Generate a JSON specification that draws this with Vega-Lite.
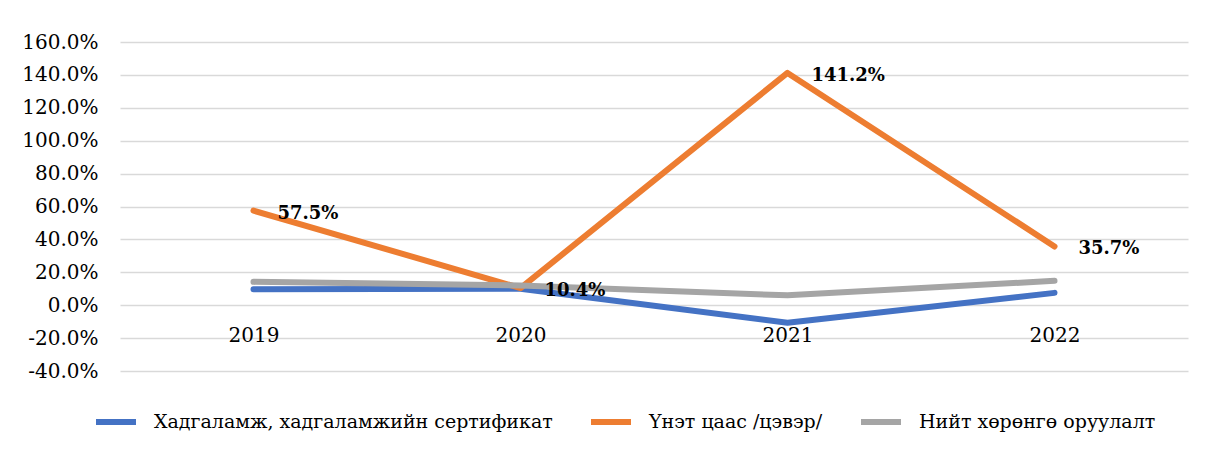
{
  "$schema": "https://vega.github.io/schema/vega-lite/v6.json",
  "width": 1068,
  "height": 329,
  "autosize": {"type": "none"},
  "padding": {"left": 120, "top": 42, "right": 18, "bottom": 80},
  "background": "white",
  "config": {
    "view": {"stroke": null},
    "font": "DejaVu Serif",
    "axis": {"labelFont": "DejaVu Serif"},
    "legend": {"labelFont": "DejaVu Serif"},
    "text": {"font": "DejaVu Serif"}
  },
  "data": {
    "values": [
      {"year": "2019", "series": "Хадгаламж, хадгаламжийн сертификат", "value": 0.097},
      {"year": "2020", "series": "Хадгаламж, хадгаламжийн сертификат", "value": 0.10},
      {"year": "2021", "series": "Хадгаламж, хадгаламжийн сертификат", "value": -0.107},
      {"year": "2022", "series": "Хадгаламж, хадгаламжийн сертификат", "value": 0.075},
      {"year": "2019", "series": "Үнэт цаас /цэвэр/", "value": 0.575},
      {"year": "2020", "series": "Үнэт цаас /цэвэр/", "value": 0.104},
      {"year": "2021", "series": "Үнэт цаас /цэвэр/", "value": 1.412},
      {"year": "2022", "series": "Үнэт цаас /цэвэр/", "value": 0.357},
      {"year": "2019", "series": "Нийт хөрөнгө оруулалт", "value": 0.142},
      {"year": "2020", "series": "Нийт хөрөнгө оруулалт", "value": 0.12},
      {"year": "2021", "series": "Нийт хөрөнгө оруулалт", "value": 0.06},
      {"year": "2022", "series": "Нийт хөрөнгө оруулалт", "value": 0.148}
    ]
  },
  "encoding": {
    "x": {
      "field": "year",
      "type": "ordinal",
      "scale": {"type": "point", "padding": 0.5},
      "axis": {
        "title": null,
        "labelAngle": 0,
        "domain": false,
        "ticks": false,
        "grid": false,
        "offset": -66,
        "labelPadding": 20,
        "labelFontSize": 20,
        "labelColor": "#000000"
      }
    },
    "y": {
      "field": "value",
      "type": "quantitative",
      "scale": {"domain": [-0.4, 1.6], "nice": false},
      "axis": {
        "title": null,
        "labelExpr": "replace(format(datum.value, '.1%'), '\u2212', '-')",
        "values": [-0.4, -0.2, 0, 0.2, 0.4, 0.6, 0.8, 1.0, 1.2, 1.4, 1.6],
        "domain": false,
        "ticks": false,
        "labelPadding": 22,
        "labelFontSize": 20,
        "labelColor": "#000000",
        "gridColor": "#d9d9d9",
        "gridWidth": 1.5
      }
    }
  },
  "layer": [
    {
      "mark": {"type": "line", "strokeWidth": 6, "strokeCap": "round", "strokeJoin": "round"},
      "encoding": {
        "color": {
          "field": "series",
          "type": "nominal",
          "scale": {
            "domain": ["Хадгаламж, хадгаламжийн сертификат", "Үнэт цаас /цэвэр/", "Нийт хөрөнгө оруулалт"],
            "range": ["#4472C4", "#ED7D31", "#A5A5A5"]
          },
          "legend": {
            "title": null,
            "orient": "none",
            "direction": "horizontal",
            "legendX": -27,
            "legendY": 357,
            "symbolType": "stroke",
            "symbolSize": 1600,
            "symbolStrokeWidth": 6,
            "labelFontSize": 19,
            "labelColor": "#000000",
            "labelOffset": 15,
            "columnPadding": 26,
            "labelLimit": 600
          }
        }
      }
    },
    {
      "transform": [{"filter": "datum.series === 'Үнэт цаас /цэвэр/'"}],
      "mark": {"type": "text", "align": "left", "baseline": "middle", "dx": 24, "dy": 3, "fontSize": 18, "fontWeight": "bold", "color": "#000000"},
      "encoding": {
        "text": {"field": "value", "type": "quantitative", "format": ".1%"}
      }
    }
  ]
}
